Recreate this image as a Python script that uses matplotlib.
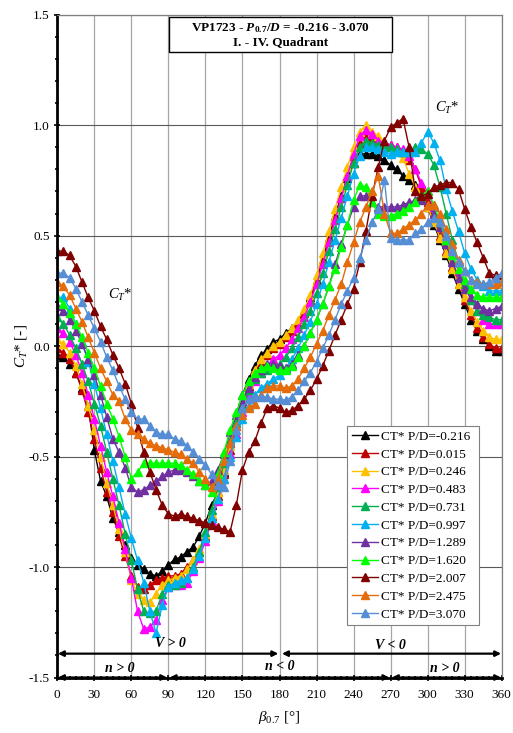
import numpy as np
import matplotlib
matplotlib.use("Agg")
import matplotlib.pyplot as plt
from matplotlib.patches import Rectangle

plt.rcParams['font.family'] = ['Liberation Serif', 'DejaVu Serif']
plt.rcParams['mathtext.fontset'] = 'custom'
plt.rcParams['mathtext.rm'] = 'Liberation Serif'
plt.rcParams['mathtext.it'] = 'Liberation Serif:italic'
plt.rcParams['mathtext.bf'] = 'Liberation Serif:bold'
plt.rcParams['mathtext.bfit'] = 'Liberation Serif:italic:bold'

# beta_0.7 in degrees, 5 deg steps
beta = list(range(0, 365, 5))

pitch_ratios = [-0.216, 0.015, 0.246, 0.483, 0.731, 0.997, 1.289, 1.620, 2.007, 2.475, 3.070]
colors = ['#000000', '#c00000', '#ffc000', '#ff00ff', '#00b050', '#00b0f0',
          '#7030a0', '#00ff00', '#800000', '#e46c0a', '#558ed5']

ct_m0216 = [-0.04, -0.05, -0.08, -0.12, -0.19, -0.27, -0.47, -0.61, -0.68, -0.78, -0.84, -0.90,
            -0.96, -0.99, -1.01, -1.03, -1.04, -1.02, -0.99, -0.965, -0.955, -0.93, -0.91, -0.86,
            -0.80, -0.72, -0.66, -0.57, -0.44, -0.33, -0.22, -0.15, -0.09, -0.04, -0.015, 0.02,
            0.03, 0.06, 0.08, 0.11, 0.16, 0.22, 0.30, 0.39, 0.49, 0.59, 0.68, 0.76,
            0.83, 0.87, 0.87, 0.87, 0.86, 0.84, 0.82, 0.80, 0.77, 0.75, 0.73, 0.69,
            0.63, 0.55, 0.48, 0.41, 0.33, 0.26, 0.19, 0.12, 0.07, 0.03, 0.00, -0.02,
            -0.02]
ct_0015 = [-0.01, -0.03, -0.06, -0.12, -0.20, -0.30, -0.42, -0.55, -0.66, -0.75, -0.86, -0.95,
           -1.04, -1.09, -1.10, -1.08, -1.06, -1.05, -1.04, -1.04, -1.03, -1.00, -0.97, -0.93,
           -0.86, -0.77, -0.68, -0.58, -0.47, -0.36, -0.26, -0.18, -0.11, -0.07, -0.04, -0.01,
           0.01, 0.04, 0.07, 0.10, 0.15, 0.21, 0.29, 0.38, 0.48, 0.58, 0.67, 0.77,
           0.86, 0.92, 0.95, 0.94, 0.93, 0.92, 0.91, 0.90, 0.88, 0.84, 0.80, 0.72,
           0.65, 0.57, 0.50, 0.43, 0.36, 0.28, 0.21, 0.14, 0.08, 0.04, 0.01, -0.01,
           -0.01]
ct_0246 = [0.03, 0.01, -0.03, -0.09, -0.17, -0.27, -0.38, -0.50, -0.62, -0.72, -0.83, -0.93,
           -1.06, -1.12, -1.15, -1.16, -1.12, -1.08, -1.06, -1.05, -1.04, -1.01, -0.97, -0.92,
           -0.85, -0.76, -0.66, -0.56, -0.45, -0.35, -0.25, -0.17, -0.11, -0.06, -0.03, 0.00,
           0.02, 0.05, 0.08, 0.12, 0.17, 0.23, 0.32, 0.42, 0.52, 0.62, 0.72, 0.81,
           0.90, 0.97, 1.00, 0.97, 0.95, 0.92, 0.90, 0.88, 0.85, 0.78, 0.72, 0.68,
           0.63, 0.56, 0.49, 0.42, 0.35, 0.28, 0.22, 0.16, 0.11, 0.07, 0.04, 0.03,
           0.03]
ct_0483 = [0.08, 0.06, 0.02, -0.04, -0.12, -0.22, -0.33, -0.45, -0.57, -0.68, -0.80, -0.92,
           -1.05, -1.20, -1.28, -1.27, -1.24, -1.15, -1.09, -1.08, -1.08, -1.07, -1.02, -0.96,
           -0.88, -0.79, -0.70, -0.60, -0.49, -0.40, -0.30, -0.22, -0.16, -0.12, -0.09, -0.06,
           -0.04, -0.01, 0.03, 0.08, 0.13, 0.20, 0.28, 0.37, 0.47, 0.57, 0.67, 0.77,
           0.87, 0.95, 0.98, 0.96, 0.93, 0.92, 0.91, 0.90, 0.89, 0.86, 0.80, 0.74,
           0.70, 0.63, 0.56, 0.48, 0.41, 0.34, 0.27, 0.21, 0.16, 0.12, 0.10, 0.10,
           0.10]
ct_0731 = [0.13, 0.10, 0.05, -0.01, -0.08, -0.16, -0.26, -0.36, -0.48, -0.60, -0.72, -0.85,
           -0.97, -1.10, -1.20, -1.21, -1.20, -1.12, -1.08, -1.08, -1.07, -1.05, -1.00, -0.93,
           -0.84, -0.74, -0.64, -0.53, -0.43, -0.35, -0.27, -0.20, -0.15, -0.12, -0.11, -0.09,
           -0.08, -0.05, -0.01, 0.04, 0.10, 0.16, 0.24, 0.33, 0.43, 0.53, 0.63, 0.73,
           0.83, 0.90, 0.93, 0.92, 0.91, 0.90, 0.90, 0.89, 0.88, 0.88, 0.90, 0.89,
           0.87, 0.82, 0.72, 0.60, 0.48, 0.38, 0.28, 0.21, 0.16, 0.14, 0.13, 0.12,
           0.12]
ct_0997 = [0.22, 0.22, 0.17, 0.10, 0.02, -0.07, -0.17, -0.28, -0.40, -0.52, -0.64, -0.76,
           -0.87, -0.97, -1.07, -1.20, -1.30, -1.17, -1.09, -1.07, -1.06, -1.05, -1.01, -0.95,
           -0.87, -0.78, -0.69, -0.60, -0.50, -0.41, -0.33, -0.27, -0.22, -0.19, -0.17, -0.15,
           -0.13, -0.10, -0.06, -0.01, 0.05, 0.11, 0.19, 0.28, 0.38, 0.48, 0.58, 0.68,
           0.78, 0.86, 0.90, 0.90, 0.89, 0.88, 0.87, 0.88, 0.88, 0.88, 0.88, 0.92,
           0.97, 0.92, 0.84, 0.71, 0.61, 0.52, 0.42, 0.35, 0.30, 0.27, 0.25, 0.25,
           0.25]
ct_1289 = [0.18, 0.16, 0.12, 0.07, 0.01, -0.06, -0.13, -0.22, -0.32, -0.42, -0.48, -0.55,
           -0.64, -0.66, -0.65, -0.63, -0.61, -0.59, -0.57, -0.56, -0.56, -0.57, -0.59, -0.61,
           -0.63, -0.61, -0.56, -0.49, -0.39, -0.31, -0.25, -0.19, -0.14, -0.11, -0.08, -0.08,
           -0.09, -0.10, -0.08, -0.04, 0.00, 0.06, 0.12, 0.19, 0.27, 0.37, 0.46, 0.55,
           0.63, 0.68, 0.68, 0.65, 0.63, 0.63, 0.63, 0.63, 0.64, 0.65, 0.66, 0.66,
           0.64, 0.60, 0.54, 0.46, 0.38, 0.31, 0.26, 0.22, 0.19, 0.17, 0.16, 0.17,
           0.18]
ct_1620 = [0.22, 0.19, 0.15, 0.10, 0.04, -0.03, -0.10, -0.18, -0.26, -0.33, -0.41, -0.50,
           -0.60, -0.57, -0.53, -0.53, -0.53, -0.53, -0.53, -0.53, -0.54, -0.56, -0.58, -0.61,
           -0.63, -0.66, -0.58, -0.48, -0.38, -0.30, -0.22, -0.16, -0.12, -0.10, -0.09, -0.10,
           -0.11, -0.11, -0.09, -0.05, 0.00, 0.06, 0.12, 0.19, 0.27, 0.35, 0.45, 0.55,
           0.66, 0.73, 0.72, 0.65, 0.60, 0.59, 0.59, 0.60, 0.61, 0.63, 0.65, 0.68,
           0.70, 0.64, 0.56, 0.48, 0.41, 0.35, 0.30, 0.26, 0.23, 0.22, 0.22, 0.22,
           0.22]
ct_2007 = [0.43, 0.43, 0.41, 0.36, 0.29, 0.22, 0.16, 0.09, 0.03, -0.04, -0.10, -0.17,
           -0.26, -0.37, -0.48, -0.57, -0.65, -0.72, -0.76, -0.77, -0.76, -0.77, -0.78, -0.79,
           -0.80, -0.81, -0.82, -0.83, -0.84, -0.72, -0.56, -0.48, -0.43, -0.35, -0.28, -0.27,
           -0.28, -0.30, -0.29, -0.27, -0.24, -0.20, -0.15, -0.09, -0.02, 0.05, 0.12, 0.19,
           0.26, 0.38, 0.52, 0.68, 0.81, 0.93, 0.99, 1.01, 1.03, 0.90, 0.70, 0.68,
           0.69, 0.72, 0.73, 0.74, 0.74, 0.71, 0.62, 0.54, 0.47, 0.40, 0.33, 0.32,
           0.32]
ct_2475 = [0.29, 0.27, 0.23, 0.17, 0.11, 0.04, -0.03, -0.10, -0.16, -0.22, -0.25, -0.33,
           -0.38, -0.40, -0.42, -0.44, -0.45, -0.46, -0.47, -0.48, -0.49, -0.51, -0.53, -0.57,
           -0.60, -0.64, -0.60, -0.52, -0.44, -0.36, -0.31, -0.28, -0.26, -0.22, -0.19, -0.18,
           -0.18, -0.19, -0.18, -0.15, -0.10, -0.05, 0.01, 0.07, 0.14, 0.21, 0.28, 0.38,
           0.47, 0.56, 0.63, 0.70, 0.77, 0.60, 0.51, 0.51, 0.53, 0.55, 0.57, 0.60,
           0.64, 0.64, 0.60, 0.53, 0.46, 0.39, 0.34, 0.30, 0.29, 0.28, 0.28, 0.28,
           0.29]
ct_3070 = [0.33, 0.33, 0.31, 0.26, 0.20, 0.14, 0.08, 0.02, -0.05, -0.11, -0.18, -0.24,
           -0.30, -0.33, -0.33, -0.36, -0.39, -0.40, -0.40, -0.42, -0.43, -0.45, -0.48, -0.51,
           -0.54, -0.58, -0.63, -0.64, -0.52, -0.38, -0.28, -0.24, -0.23, -0.23, -0.23, -0.24,
           -0.24, -0.245, -0.23, -0.20, -0.16, -0.12, -0.07, -0.01, 0.05, 0.12, 0.19, 0.25,
           0.31, 0.40, 0.48, 0.56, 0.62, 0.75, 0.49, 0.48, 0.48, 0.48, 0.51, 0.53,
           0.56, 0.58, 0.56, 0.50, 0.43, 0.38, 0.34, 0.30, 0.28, 0.28, 0.29, 0.31,
           0.33]

series = [ct_m0216, ct_0015, ct_0246, ct_0483, ct_0731, ct_0997,
          ct_1289, ct_1620, ct_2007, ct_2475, ct_3070]

fig = plt.figure(figsize=(5.13, 7.33), dpi=100)
ax = fig.add_axes([0.1117, 0.0757, 0.8663, 0.9043])

for pd_, c, ct in zip(pitch_ratios, colors, series):
    ax.plot(beta, ct, color=c, lw=1.0, marker='^', ms=5.5, mec=c, mfc=c,
            label=f'CT* P/D={pd_:.3f}')

ax.set_xlim(0, 360)
ax.set_ylim(-1.5, 1.5)
ax.set_xticks(np.arange(0, 361, 30))
ax.set_xticks(np.arange(0, 361, 5), minor=True)
ax.set_yticks(np.arange(-1.5, 1.51, 0.5))
ax.set_yticks(np.arange(-1.5, 1.51, 0.1), minor=True)
ax.set_yticklabels([f'{v:.1f}' for v in np.arange(-1.5, 1.51, 0.5)])
ax.tick_params(axis='both', which='major', labelsize=9.5, length=4, width=1.2, direction='inout')
ax.tick_params(axis='both', which='minor', length=3, width=1.2, direction='inout')
ax.tick_params(axis='x', pad=6)

ax.xaxis.grid(True, color='#a6a6a6', lw=0.9)
ax.yaxis.grid(True, color='#595959', lw=0.8)
ax.set_axisbelow(True)
for s in ['left', 'bottom']:
    ax.spines[s].set_linewidth(2.0)
for s in ['top', 'right']:
    ax.spines[s].set_color('#808080')
    ax.spines[s].set_linewidth(0.9)

ax.set_xlabel(r'$\beta_{0.7}$ [°]', fontsize=11, labelpad=6)
ax.set_ylabel(r'$C_T$* [-]', fontsize=11, labelpad=0)

# title box
ax.add_patch(Rectangle((0.251, 0.9437), 0.502, 0.0528, transform=ax.transAxes,
                       facecolor='white', edgecolor='black', lw=1.0, zorder=5))
ax.text(0.502, 0.970,
        r'VP1723 - $\mathbfit{P}_{\mathbf{0.7}}\mathbf{/}\mathbfit{D}$ = -0.216 - 3.070' + '\nI. - IV. Quadrant',
        transform=ax.transAxes, ha='center', va='center', fontsize=9.5,
        fontweight='bold', linespacing=1.15, zorder=6)

ax.text(51, 0.23, r'$C_T$*', fontsize=10.5, ha='center', va='center')
ax.text(316, 1.08, r'$C_T$*', fontsize=10.5, ha='center', va='center')

# direction arrows
arr = dict(arrowstyle='<|-|>', color='black', lw=1.6, shrinkA=0, shrinkB=0, mutation_scale=8)
ax.annotate('', xy=(179, -1.392), xytext=(0.5, -1.392), arrowprops=arr, zorder=7)
ax.annotate('', xy=(359.5, -1.392), xytext=(182, -1.392), arrowprops=arr, zorder=7)
ax.annotate('', xy=(89, -1.5), xytext=(0.5, -1.5), arrowprops=arr, zorder=7, annotation_clip=False)
ax.annotate('', xy=(269, -1.5), xytext=(91, -1.5), arrowprops=arr, zorder=7, annotation_clip=False)
ax.annotate('', xy=(359.5, -1.5), xytext=(271, -1.5), arrowprops=arr, zorder=7, annotation_clip=False)
lab = dict(fontsize=10, fontweight='bold', fontstyle='italic', ha='center', va='center')
ax.text(92, -1.345, 'V > 0', **lab)
ax.text(270, -1.357, 'V < 0', **lab)
ax.text(51, -1.458, 'n > 0', **lab)
ax.text(180, -1.452, 'n < 0', **lab)
ax.text(314, -1.458, 'n > 0', **lab)

leg = ax.legend(loc='lower left', bbox_to_anchor=(0.652, 0.079, 0.297, 0.306), mode='expand',
                fontsize=9.5, frameon=True, fancybox=False, framealpha=1,
                edgecolor='#808080', handlelength=2.0, handletextpad=0.2,
                labelspacing=0.42, borderpad=0.35, borderaxespad=0)
leg.get_frame().set_linewidth(0.8)

fig.savefig('out.png', dpi=100)
